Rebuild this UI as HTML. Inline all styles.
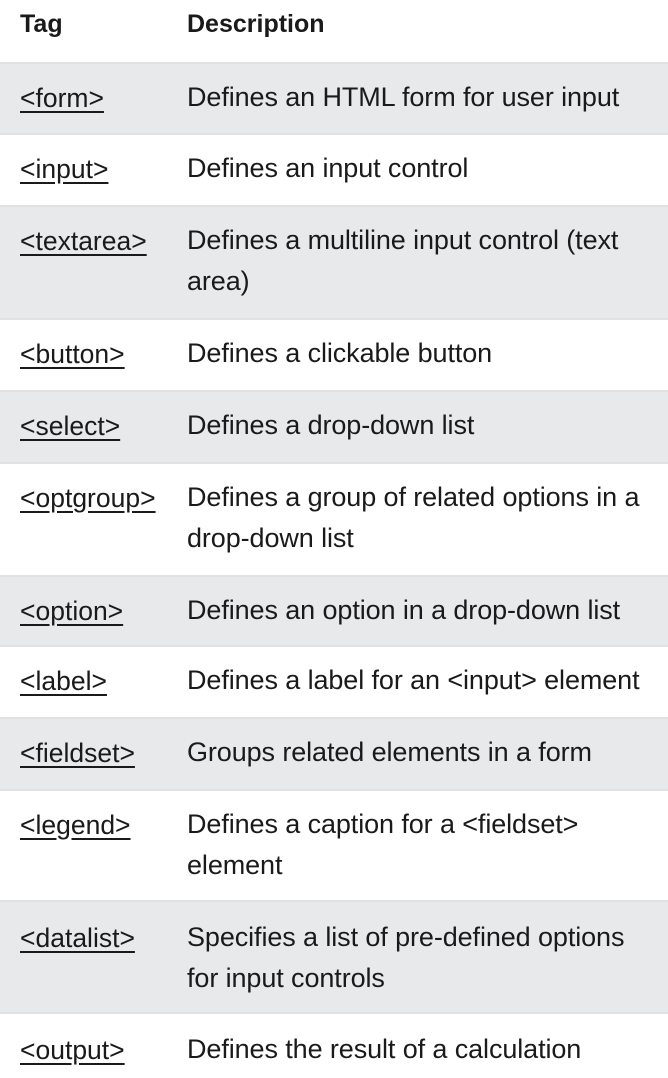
<!DOCTYPE html>
<html><head><meta charset="utf-8"><style>
body{margin:0;width:668px;height:1078px;overflow:hidden;background:#fff;font-family:"Liberation Sans",sans-serif;color:#1a1a1a;}
.r{position:absolute;left:0;width:668px;border-top:2px solid #dfe1e3;box-sizing:border-box}
.g{background:#e8e9eb}
.t{position:absolute;left:20px;font-size:26.5px;text-decoration:underline;text-underline-offset:4px;white-space:nowrap}
.d{position:absolute;left:187px;font-size:27px;letter-spacing:-0.1px;line-height:41px;white-space:nowrap}
.h{position:absolute;font-size:25px;font-weight:bold;top:10px}
</style></head><body>
<div class="h" style="left:20px">Tag</div><div class="h" style="left:187px">Description</div>
<div class="r g" style="top:62px;height:72px"><div class="t" style="top:19px">&lt;form&gt;</div><div class="d" style="top:13px">Defines an HTML form for user input</div></div>
<div class="r" style="top:133px;height:73px"><div class="t" style="top:19px">&lt;input&gt;</div><div class="d" style="top:13px">Defines an input control</div></div>
<div class="r g" style="top:205px;height:114px"><div class="t" style="top:19px">&lt;textarea&gt;</div><div class="d" style="top:13px">Defines a multiline input control (text<br>area)</div></div>
<div class="r" style="top:318px;height:73px"><div class="t" style="top:19px">&lt;button&gt;</div><div class="d" style="top:13px">Defines a clickable button</div></div>
<div class="r g" style="top:390px;height:73px"><div class="t" style="top:19px">&lt;select&gt;</div><div class="d" style="top:13px">Defines a drop-down list</div></div>
<div class="r" style="top:462px;height:114px"><div class="t" style="top:19px">&lt;optgroup&gt;</div><div class="d" style="top:13px">Defines a group of related options in a<br>drop-down list</div></div>
<div class="r g" style="top:575px;height:71px"><div class="t" style="top:19px">&lt;option&gt;</div><div class="d" style="top:13px">Defines an option in a drop-down list</div></div>
<div class="r" style="top:645px;height:73px"><div class="t" style="top:19px">&lt;label&gt;</div><div class="d" style="top:13px">Defines a label for an &lt;input&gt; element</div></div>
<div class="r g" style="top:717px;height:73px"><div class="t" style="top:19px">&lt;fieldset&gt;</div><div class="d" style="top:13px">Groups related elements in a form</div></div>
<div class="r" style="top:789px;height:112px"><div class="t" style="top:19px">&lt;legend&gt;</div><div class="d" style="top:13px">Defines a caption for a &lt;fieldset&gt;<br>element</div></div>
<div class="r g" style="top:900px;height:113px"><div class="t" style="top:21px">&lt;datalist&gt;</div><div class="d" style="top:15px">Specifies a list of pre-defined options<br>for input controls</div></div>
<div class="r" style="top:1012px;height:66px"><div class="t" style="top:21px">&lt;output&gt;</div><div class="d" style="top:15px">Defines the result of a calculation</div></div>
</body></html>
